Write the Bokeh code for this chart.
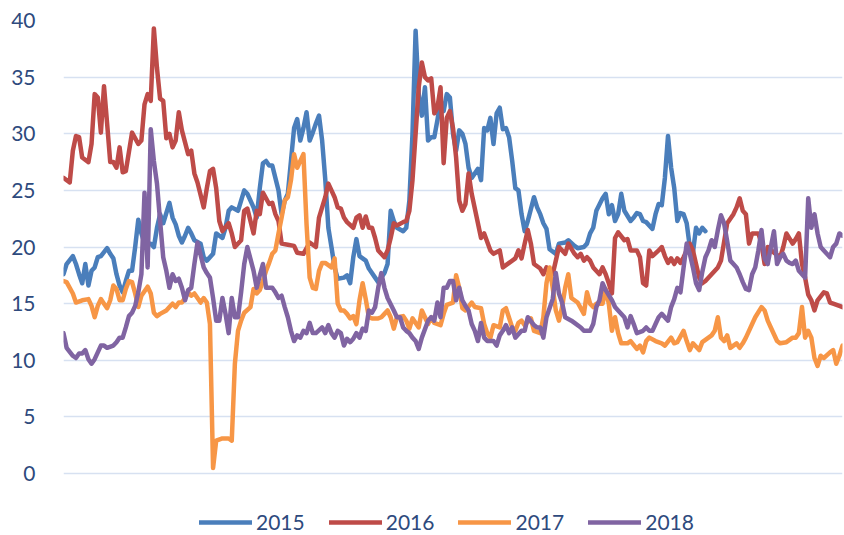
from bokeh.plotting import figure
from bokeh.models import Legend, LegendItem, Range1d, FixedTicker
from bokeh.embed import file_html
from bokeh.resources import INLINE

# ---- data (trading-day index, value) ----
years = ["2015", "2016", "2017", "2018"]
colors = ["#4A7EBB", "#BE4B48", "#F79646", "#8064A2"]

days_2015 = [0,1,3,4,5,6,7,8,9,10,11,12,14,15,16,17,18,19,20,21,22,23,24,25,26,28,29,30,31,32,34,35,36,37,38,39,40,41,42,44,45,46,48,49,51,52,53,54,56,57,58,59,61,62,63,64,65,66,67,69,70,71,72,73,74,75,76,77,78,79,80,81,82,83,84,85,86,87,88,90,91,92,93,94,95,97,98,100,101,103,104,105,106,107,109,110,111,112,113,114,115,116,117,118,119,120,121,122,123,124,125,126,127,128,129,130,131,133,134,135,136,137,138,139,140,141,142,143,144,145,146,147,148,149,151,152,153,154,155,156,158,159,161,162,164,165,167,168,169,170,171,173,174,175,176,177,178,179,180,182,183,184,185,186,187,189,190,191,192,193,194,195,196,197,198,199,200,201,202,203,204,205,206]
vals_2015 = [17.6,18.5,19.2,18.5,17.6,16.8,18.5,16.6,17.9,18.2,19.1,19.2,19.9,19.4,19.0,17.6,16.6,16.0,17.0,17.9,17.9,20.0,22.4,21.2,20.3,20.3,20.0,21.7,22.9,22.1,23.9,22.6,22.0,21.0,20.4,21.0,21.7,21.2,20.6,20.3,19.1,18.8,19.4,21.2,20.8,21.7,23.2,23.5,23.2,24.1,25.0,24.7,23.5,22.6,25.2,27.4,27.6,27.2,27.2,25.0,22.9,24.1,24.7,27.6,30.5,31.3,29.4,30.5,31.9,29.4,30.1,30.9,31.6,29.4,26.0,21.7,20.0,18.2,17.2,17.3,17.5,16.8,19.1,20.7,19.2,18.8,18.1,17.3,16.9,17.7,18.5,23.2,22.3,21.7,21.4,21.7,24.1,30.0,39.1,33.5,31.6,34.1,29.4,29.7,29.7,31.2,32.9,32.0,33.5,33.2,30.0,28.5,30.3,30.0,29.1,27.0,26.1,26.9,25.9,30.5,30.3,31.4,29.1,31.8,32.3,30.4,30.5,29.7,27.6,25.2,25.0,22.9,21.4,22.3,24.4,23.5,22.9,22.1,21.6,19.8,19.4,20.3,20.4,20.6,20.1,19.9,20.0,20.3,21.2,21.7,23.2,24.3,24.7,22.9,23.7,22.3,22.9,24.7,23.2,22.3,22.6,23.0,22.9,22.3,22.2,21.6,22.9,23.8,23.7,26.1,29.8,27.0,25.2,22.3,23.0,22.9,22.1,20.0,19.5,21.7,21.2,21.7,21.4]

days_2016 = [0,2,3,4,5,6,8,9,10,11,12,13,14,15,16,17,18,19,20,22,24,25,26,27,28,29,30,31,32,33,34,35,36,37,38,40,41,42,43,45,46,47,48,49,50,51,53,54,55,57,58,59,61,62,63,64,66,67,68,69,70,72,74,75,77,79,81,82,84,85,87,88,89,90,91,93,94,95,96,97,98,99,100,101,103,104,105,106,107,109,110,111,112,113,114,115,116,117,118,119,120,121,122,123,124,125,126,127,128,129,130,131,133,134,135,137,138,140,141,143,145,146,147,148,149,150,151,153,154,155,157,158,159,161,162,164,165,166,167,168,169,170,172,173,174,175,176,177,178,180,181,182,184,185,186,187,188,189,191,192,193,194,195,196,197,198,199,201,202,203,204,205,206,208,210,211,213,215,216,217,218,219,220,221,223,224,225,226,228,230,231,232,234,235,236,237,238,239,240,241,242,244,245,246,247,249,250]
vals_2016 = [26.1,25.7,28.5,29.8,29.7,27.9,27.5,29.1,33.5,33.2,30.1,34.2,30.9,27.5,27.5,27.0,28.8,26.6,26.7,30.1,29.1,29.4,32.6,33.5,32.9,39.3,35.8,33.1,32.9,29.6,30.0,28.8,29.4,31.9,30.3,28.2,28.5,26.5,25.7,23.5,25.2,26.7,26.9,25.2,22.3,21.4,22.1,21.2,20.0,20.6,23.2,23.4,21.2,23.2,22.9,24.8,23.8,23.9,22.9,22.3,20.3,20.2,20.1,19.5,19.4,20.4,20.0,22.6,24.4,25.6,24.4,23.5,23.4,22.6,22.2,21.7,22.6,22.8,21.7,22.7,21.7,21.7,20.8,19.7,19.1,19.7,20.8,22.1,21.9,22.2,22.3,23.2,25.9,30.0,34.1,36.3,35.0,34.7,34.9,31.8,32.3,34.1,27.4,31.4,32.0,30.5,27.9,24.1,23.2,23.8,26.5,24.7,22.1,20.8,21.2,19.7,19.4,19.7,18.2,18.6,19.0,19.7,19.0,20.3,21.5,20.3,18.5,18.1,17.6,18.2,17.6,18.8,20.0,19.4,20.3,19.4,19.1,19.4,18.8,19.1,18.8,18.2,17.6,18.2,17.6,16.8,15.9,20.8,21.3,20.6,20.7,19.7,19.7,19.1,16.8,16.6,19.7,19.2,19.7,20.0,19.2,18.6,19.0,18.5,19.0,18.6,19.1,20.3,19.7,18.5,17.3,16.8,17.0,17.6,18.2,18.8,22.1,22.9,23.5,24.3,23.2,22.9,20.3,21.2,21.2,20.3,18.5,20.0,19.5,19.1,20.0,21.2,20.3,20.7,21.2,18.5,17.3,15.8,15.3,14.4,15.3,16.0,15.9,15.1,15.0,14.8,14.7]

days_2017 = [0,1,3,4,6,8,9,10,11,12,13,14,15,16,17,18,19,20,21,22,23,24,25,27,28,29,30,31,33,34,35,36,37,38,39,40,41,42,43,44,45,46,47,48,49,51,53,54,55,56,57,58,60,61,62,63,64,65,66,67,68,69,70,71,72,73,74,75,76,77,78,79,80,81,82,83,84,86,87,88,89,90,91,92,93,94,95,96,97,98,99,101,102,103,104,105,106,107,109,110,111,112,114,115,117,118,119,121,122,123,125,126,127,128,129,131,132,134,135,136,137,138,140,141,142,144,145,146,147,148,150,151,153,154,155,156,157,158,159,160,161,162,163,165,166,167,168,169,170,171,173,174,175,176,177,178,179,181,182,184,185,186,187,188,190,192,193,195,196,197,199,200,201,202,204,205,207,208,209,210,211,212,213,214,216,217,218,219,221,222,224,225,226,227,229,230,232,234,235,236,237,238,239,240,241,242,243,244,246,247,248,249,250]
vals_2017 = [17.0,16.9,15.9,15.1,15.3,15.4,14.8,13.8,14.8,15.4,15.0,14.6,15.3,16.6,16.3,15.3,15.3,16.3,17.0,16.9,15.9,14.7,15.7,16.5,15.9,14.2,13.9,14.1,14.4,14.7,15.0,14.7,15.1,15.1,15.5,16.0,15.7,15.9,15.5,15.1,15.5,15.1,13.2,0.5,2.9,3.1,3.1,2.9,9.7,12.6,13.5,14.2,14.7,16.3,15.9,16.2,17.0,17.9,18.6,19.4,19.7,21.2,22.6,24.1,24.4,25.9,28.2,27.0,27.6,28.2,22.0,17.3,16.4,16.3,17.9,18.6,18.6,18.2,19.0,15.0,14.4,14.4,14.1,13.7,13.9,13.2,15.3,16.8,15.4,13.8,13.7,13.7,13.8,14.1,14.4,13.8,12.8,13.8,13.9,13.5,12.8,13.7,12.9,14.4,13.2,13.8,13.3,13.1,14.1,14.9,15.1,17.5,16.4,14.6,14.4,15.1,14.7,14.6,13.2,12.4,12.0,13.1,12.9,14.4,14.6,12.9,12.6,13.3,13.5,13.1,13.7,12.6,12.4,13.8,16.8,18.2,16.4,14.4,13.5,14.7,16.4,17.6,15.5,15.1,14.6,14.1,16.0,15.0,14.7,15.0,15.0,16.3,15.0,12.6,13.8,12.4,11.5,11.5,11.7,11.0,11.3,10.7,11.7,12.0,11.7,11.5,11.3,12.0,11.5,11.6,12.6,11.7,10.9,11.5,10.9,11.6,12.0,12.2,12.6,13.8,12.0,11.7,12.2,11.1,11.5,11.1,11.5,12.0,13.2,13.8,14.7,14.4,13.5,12.9,11.7,11.5,11.6,12.0,12.0,12.4,14.7,12.0,12.6,12.0,10.2,9.5,10.4,10.2,10.7,10.9,9.7,10.4,11.3]

days_2018 = [0,1,3,4,5,6,7,8,9,10,11,12,13,14,16,17,18,19,20,21,22,23,24,25,26,27,28,29,30,31,32,33,34,35,36,37,38,39,40,41,42,43,45,46,47,48,49,50,51,52,53,54,55,56,57,58,59,61,62,63,64,65,67,68,69,70,71,72,73,74,75,76,77,78,79,80,81,83,84,85,86,87,88,89,90,91,92,93,94,95,96,97,98,99,100,101,102,103,104,106,107,108,109,110,111,112,113,114,115,117,118,119,120,121,122,123,124,125,126,127,128,129,130,131,132,133,134,135,136,137,138,139,140,141,142,143,144,145,147,148,149,151,152,153,154,155,157,158,159,160,161,163,164,166,167,169,170,171,172,173,174,176,177,178,180,181,182,183,184,186,187,188,189,190,191,192,194,195,196,197,198,199,200,201,202,203,204,205,206,207,208,209,210,211,212,213,214,215,216,217,218,219,220,221,222,223,224,225,226,227,228,229,230,231,232,233,234,235,236,237,238,239,240,241,242,243,244,246,247,248,249,250]
vals_2018 = [12.4,11.1,10.4,10.2,10.6,10.6,10.9,10.1,9.7,10.1,10.7,11.3,11.3,11.1,11.3,11.6,12.0,12.0,12.9,13.9,14.2,14.8,16.0,17.6,24.8,18.2,30.4,27.6,25.6,22.3,19.1,17.9,16.4,17.6,17.0,17.2,16.4,15.3,16.2,16.4,18.5,20.4,18.2,17.7,17.3,15.5,13.5,13.5,15.5,14.1,12.4,15.5,13.8,13.8,16.0,18.5,20.0,17.9,16.4,17.5,18.5,16.4,16.4,16.0,15.5,15.7,14.7,13.8,12.6,11.7,12.2,12.0,12.6,12.4,13.3,12.4,12.4,12.9,12.4,13.1,12.4,12.0,12.6,12.4,11.3,11.9,11.6,11.9,12.4,12.0,12.8,12.6,14.4,14.2,14.7,16.4,17.7,16.4,15.5,14.4,13.8,13.8,12.9,12.6,12.4,12.0,11.7,11.0,12.0,13.5,13.8,13.5,15.1,13.8,16.4,16.4,17.0,17.0,15.3,16.4,15.3,14.8,14.4,13.2,12.6,11.7,13.3,12.0,11.7,11.7,11.7,11.3,12.2,12.6,13.1,12.4,12.9,12.0,12.6,12.6,13.8,13.1,12.9,12.9,12.0,13.8,15.4,17.7,15.9,15.1,13.8,13.5,13.3,12.9,12.6,12.6,13.2,14.7,15.3,16.8,16.2,15.3,14.7,14.4,13.8,12.9,13.9,13.2,12.4,12.6,12.9,12.6,12.6,13.2,13.8,14.1,13.5,14.7,15.4,16.4,16.0,18.2,20.3,19.4,18.2,16.8,16.2,17.8,19.1,19.7,20.6,20.0,21.5,22.8,22.1,20.5,18.8,18.5,18.2,17.6,16.9,16.3,16.2,17.6,18.2,19.7,21.5,19.0,18.5,20.0,21.4,18.5,19.1,19.4,18.8,18.6,18.5,18.8,17.9,17.6,17.3,24.3,21.7,22.9,21.2,20.0,19.7,19.1,20.0,20.3,21.2,21.0]

series_days = [days_2015, days_2016, days_2017, days_2018]
series_vals = [vals_2015, vals_2016, vals_2017, vals_2018]

y_ticks = [0, 5, 10, 15, 20, 25, 30, 35, 40]

FONT = "Lato"
TEXT = "#2E4A7D"

# plot area runs to the bottom of the canvas; the space below 0 holds the legend
p = figure(width=843, height=534, output_backend="svg", toolbar_location=None,
           x_range=Range1d(0, 250), y_range=Range1d(-5.38, 40),
           min_border_left=63, min_border_right=1, min_border_top=20, min_border_bottom=0)
p.outline_line_color = None
p.background_fill_color = "white"
p.border_fill_color = "white"

p.xaxis.visible = False
p.xgrid.visible = False

p.ygrid.ticker = FixedTicker(ticks=y_ticks)
p.ygrid.grid_line_color = "#D7E1F1"
p.ygrid.grid_line_width = 1.5
p.yaxis.ticker = FixedTicker(ticks=y_ticks)
p.yaxis.axis_line_color = None
p.yaxis.major_tick_line_color = None
p.yaxis.minor_tick_line_color = None
p.yaxis.major_label_text_font = FONT
p.yaxis.major_label_text_font_size = "21px"
p.yaxis.major_label_text_color = TEXT
p.yaxis.major_label_standoff = 22

items = []
for yr, c, dx, vy in zip(years, colors, series_days, series_vals):
    r = p.line(dx, vy, line_color=c, line_width=4.5, line_join="round", line_cap="round")
    items.append(LegendItem(label=yr, renderers=[r]))

legend = Legend(items=items, orientation="horizontal", location=(136, 0),
                glyph_width=53, glyph_height=20, label_standoff=4, spacing=24,
                padding=0, margin=0, border_line_color=None, background_fill_alpha=0,
                label_text_font=FONT, label_text_font_size="21px", label_text_color=TEXT)
p.add_layout(legend, "center")

open("out.html", "w").write(file_html(p, INLINE))
